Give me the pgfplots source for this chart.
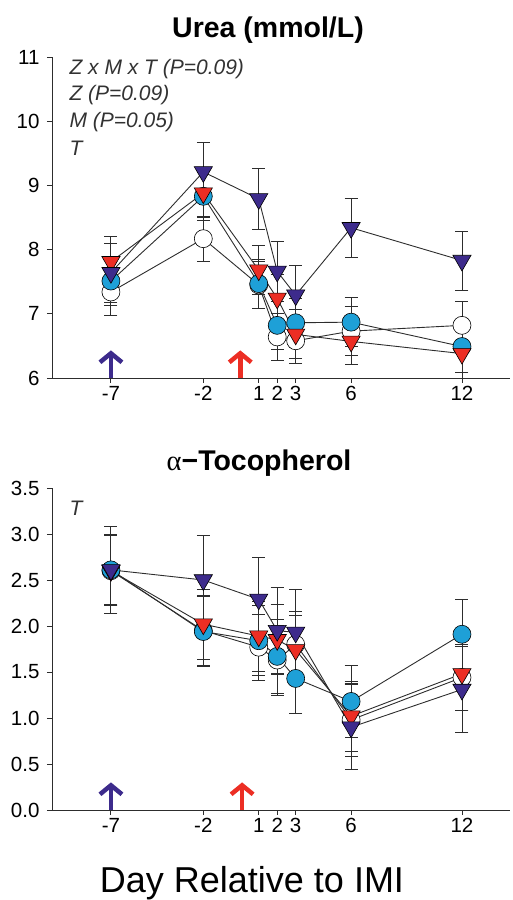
\documentclass[border=0pt]{standalone}
\usepackage{fontspec}
\setmainfont{Liberation Sans}
\newfontfamily\greekfont{Liberation Serif}
\usepackage{pgfplots}
\pgfplotsset{compat=1.18}
\usetikzlibrary{arrows.meta}

\definecolor{purp}{RGB}{61,43,140}
\definecolor{redt}{RGB}{236,46,36}
\definecolor{cyanc}{RGB}{30,160,215}
\definecolor{lin}{RGB}{45,45,45}
\definecolor{ann}{RGB}{50,50,50}

\tikzset{arr/.style={line width=4.5pt, -{Straight Barb[length=9pt, width=22pt]}}}

\pgfplotsset{
  panel/.style={
    scale only axis, width=458pt,
    xmin=-10.19, xmax=14.6,
    axis lines=left, axis line style={-, lin, line width=0.9pt},
    tick align=outside, major tick length=5pt,
    tick style={lin, line width=0.9pt},
    xtick={-7,-2,1,2,3,6,12},
    ticklabel style={font=\fontsize{20.5}{20.5}\selectfont},
    yticklabel style={xshift=-4pt},
    /pgf/number format/assume math mode=true,
    clip=false,
  },
  ebar/.style={lin, line width=0.9pt,
    error bars/.cd, y dir=both, y explicit,
    error bar style={lin, line width=0.9pt},
    error mark options={lin, line width=0.9pt, mark size=6.5pt, rotate=90},
    /pgfplots/.cd},
  sopen/.style={mark=*, mark size=9pt, mark options={fill=white, draw=black, line width=0.6pt}},
  scyan/.style={mark=*, mark size=9pt, mark options={fill=cyanc, draw=black, line width=0.6pt}},
  sred/.style={mark=triangle*, mark size=10.5pt, mark options={rotate=180, fill=redt, draw=black, line width=0.6pt}},
  spurp/.style={mark=triangle*, mark size=10.5pt, mark options={rotate=180, fill=purp, draw=black, line width=0.6pt}},
}

\begin{document}
\begin{tikzpicture}[x=1pt,y=1pt]
\path[use as bounding box] (0,0) rectangle (512,900);

% Urea
\begin{axis}[panel, at={(52pt,522pt)}, anchor=south west, height=321pt,
  ymin=6, ymax=11, ytick={6,7,8,9,10,11}]
\addplot[sopen, ebar] coordinates {
  (-7,7.34) +- (0,0.36) (-2,8.17) +- (0,0.35) (1,7.45) +- (0,0.36) (2,6.64) +- (0,0.36)
  (3,6.58) +- (0,0.36) (6,6.73) +- (0,0.38) (12,6.82) +- (0,0.38)};
\addplot[scyan, ebar] coordinates {
  (-7,7.51) +- (0,0.38) (-2,8.83) +- (0,0.38) (1,7.47) +- (0,0.38) (2,6.82) +- (0,0.38)
  (3,6.86) +- (0,0.38) (6,6.87) +- (0,0.38) (12,6.49) +- (0,0.40)};
\addplot[sred, ebar] coordinates {
  (-7,7.81) +- (0,0.39) (-2,8.88) +- (0,0.38) (1,7.68) +- (0,0.38) (2,7.24) +- (0,0.38)
  (3,6.68) +- (0,0.38) (6,6.57) +- (0,0.36) (12,6.38) +- (0,0.38)};
\addplot[spurp, ebar] coordinates {
  (-7,7.64) +- (0,0.46) (-2,9.21) +- (0,0.46) (1,8.79) +- (0,0.47) (2,7.66) +- (0,0.46)
  (3,7.29) +- (0,0.46) (6,8.34) +- (0,0.46) (12,7.83) +- (0,0.46)};
\draw[purp, arr] (axis cs:-7,6) -- (axis cs:-7,6.43);
\draw[redt, arr] (axis cs:0,6) -- (axis cs:0,6.43);
\end{axis}

% alpha-Tocopherol
\begin{axis}[panel, at={(52pt,90pt)}, anchor=south west, height=322pt,
  ymin=0, ymax=3.5, ytick={0,0.5,1,1.5,2,2.5,3,3.5},
  yticklabel style={/pgf/number format/.cd, fixed, fixed zerofill, precision=1}]
\addplot[sopen, ebar] coordinates {
  (-7,2.60) +- (0,0.38) (-2,1.95) +- (0,0.38) (1,1.77) +- (0,0.36) (2,1.63) +- (0,0.38)
  (3,1.80) +- (0,0.36) (6,0.98) +- (0,0.40) (12,1.44) +- (0,0.36)};
\addplot[scyan, ebar] coordinates {
  (-7,2.61) +- (0,0.38) (-2,1.94) +- (0,0.38) (1,1.84) +- (0,0.38) (2,1.67) +- (0,0.40)
  (3,1.43) +- (0,0.38) (6,1.18) +- (0,0.39) (12,1.91) +- (0,0.38)};
\addplot[sred, ebar] coordinates {
  (-7,2.60) +- (0,0.38) (-2,2.02) +- (0,0.38) (1,1.89) +- (0,0.38) (2,1.85) +- (0,0.38)
  (3,1.74) +- (0,0.38) (6,1.02) +- (0,0.38) (12,1.48) +- (0,0.40)};
\addplot[spurp, ebar] coordinates {
  (-7,2.61) +- (0,0.47) (-2,2.50) +- (0,0.48) (1,2.29) +- (0,0.46) (2,1.95) +- (0,0.47)
  (3,1.93) +- (0,0.47) (6,0.90) +- (0,0.46) (12,1.31) +- (0,0.47)};
\draw[purp, arr] (axis cs:-7,0) -- (axis cs:-7,0.30);
\draw[redt, arr] (axis cs:0.1,0) -- (axis cs:0.1,0.30);
\end{axis}

% titles and notes
\node[font=\fontsize{28.5}{28.5}\selectfont\bfseries] at (268,870) {Urea (mmol/L)};
\node[font=\fontsize{28.5}{28.5}\selectfont] at (259,437) {{\greekfont α}\textbf{−Tocopherol}};
\node[font=\fontsize{36}{36}\selectfont, anchor=base] at (252,8) {Day Relative to IMI};
\begin{scope}[every node/.style={anchor=west, text=ann, font=\fontsize{21}{21}\selectfont\itshape}]
\node at (66,831) {Z x M x T (P=0.09)};
\node at (66,805) {Z (P=0.09)};
\node at (66,778) {M (P=0.05)};
\node at (66,752) {T};
\node at (66,392) {T};
\end{scope}
\end{tikzpicture}
\end{document}
